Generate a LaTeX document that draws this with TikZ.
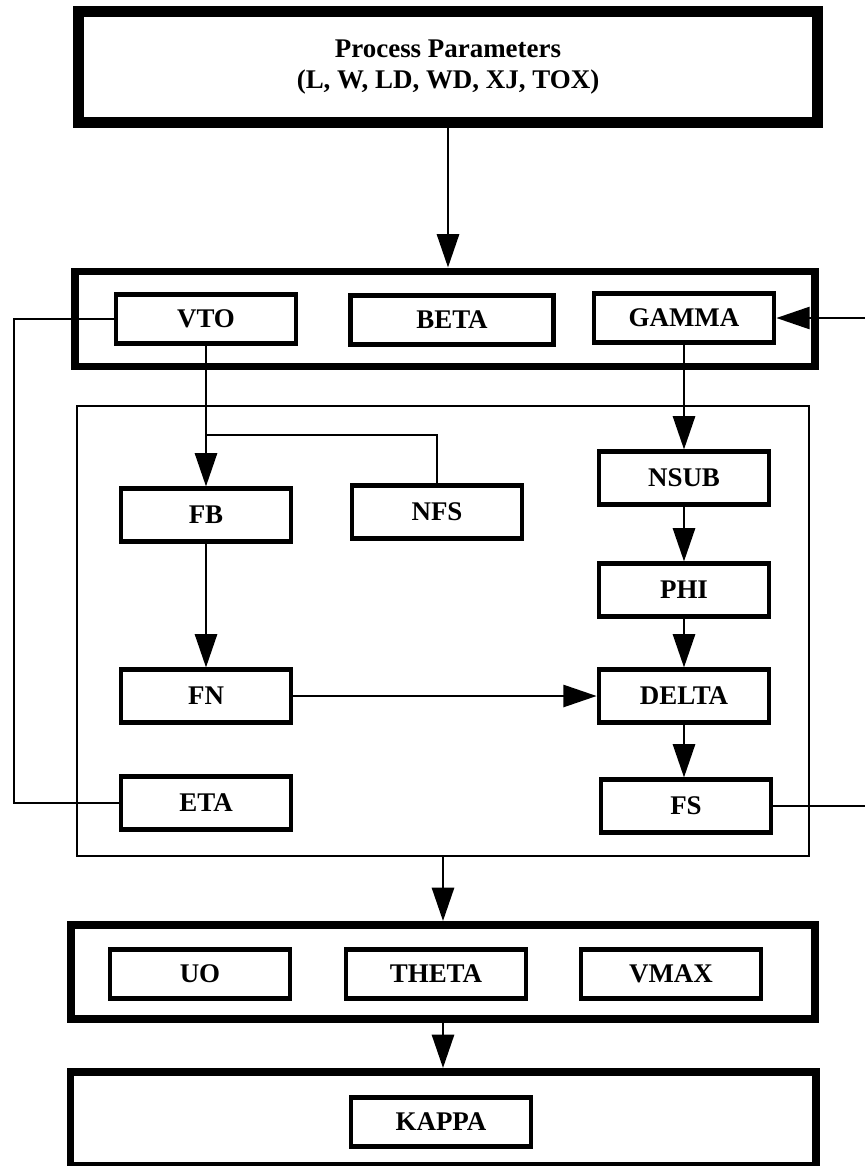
\documentclass[tikz,border=0pt]{standalone}
\usepackage{fontspec}
\setmainfont{Liberation Serif}
\usetikzlibrary{arrows.meta}
\tikzset{
  blk/.style={draw, line width=4pt, minimum width=5.1cm, minimum height=1.57cm, inner sep=0pt, font=\fontsize{23}{27}\selectfont\bfseries},
  blkw/.style={blk, minimum width=5.4cm, minimum height=1.47cm},
  grp/.style={draw, line width=6.8pt, inner sep=0pt},
  lnk/.style={line width=2.4pt},
  arr/.style={lnk, -{Triangle[length=1cm,width=0.66cm]}},
}
\begin{document}
\begin{tikzpicture}[x=0.03cm, y=-0.03cm]
    \clip (0,0) rectangle (865,1166);

    % 工艺参数
    \node[grp, line width=9.4pt, minimum width=22.17cm, minimum height=3.33cm, align=center, font=\fontsize{23}{27}\selectfont\bfseries] (top) at (448,67) {Process Parameters\\(L, W, LD, WD, XJ, TOX)};

    % 第一组参数
    \node[grp, minimum width=22.2cm, minimum height=2.85cm] (grpA) at (445,319) {};
    \node[blkw] (VTO) at (206,319) {VTO};
    \node[blkw, minimum width=6.1cm] (BETA) at (452,320) {BETA};
    \node[blkw] (GAMMA) at (684,318) {GAMMA};

    % 中间框
    \node[draw, line width=1.7pt, minimum width=21.96cm, minimum height=13.5cm] (mid) at (443,631) {};
    \node[blk] (FB) at (206,515) {FB};
    \node[blk] (NFS) at (437,512) {NFS};
    \node[blk] (NSUB) at (684,478) {NSUB};
    \node[blk] (PHI) at (684,590) {PHI};
    \node[blk] (FN) at (206,696) {FN};
    \node[blk] (DELTA) at (684,696) {DELTA};
    \node[blk] (ETA) at (206,803) {ETA};
    \node[blk] (FS) at (686,806) {FS};

    % 第二组参数
    \node[grp, minimum width=22.32cm, minimum height=2.82cm] (grpB) at (443,972) {};
    \node[blkw] (UO) at (200,974) {UO};
    \node[blkw] (THETA) at (436,974) {THETA};
    \node[blkw] (VMAX) at (671,974) {VMAX};

    % 第三组参数
    \node[grp, minimum width=22.35cm, minimum height=2.82cm] (grpC) at (443,1119) {};
    \node[blkw] (KAPPA) at (441,1122) {KAPPA};

    % 连线
    \coordinate (lft) at (14,0);
    \coordinate (rgt) at (866,0);
    \coordinate (br) at (206,435);
    \draw[arr] (top.south) -- (top.south |- grpA.north);
    \draw[arr] (rgt |- GAMMA.east) -- (GAMMA.east);
    \draw[arr] (VTO.south) -- (FB.north);
    \draw[lnk] (br) -| (NFS.north);
    \draw[arr] (GAMMA.south) -- (NSUB.north);
    \draw[arr] (NSUB.south) -- (PHI.north);
    \draw[arr] (PHI.south) -- (DELTA.north);
    \draw[arr] (FB.south) -- (FN.north);
    \draw[arr] (FN.east) -- (DELTA.west);
    \draw[arr] (DELTA.south) -- (DELTA.south |- FS.north);
    \draw[lnk] (VTO.west) -- (VTO.west -| lft) -- (ETA.west -| lft) -- (ETA.west);
    \draw[lnk] (FS.east) -- (FS.east -| rgt);
    \draw[arr] (mid.south) -- (mid.south |- grpB.north);
    \draw[arr] (grpB.south) -- (grpB.south |- grpC.north);
\end{tikzpicture}
\end{document}
